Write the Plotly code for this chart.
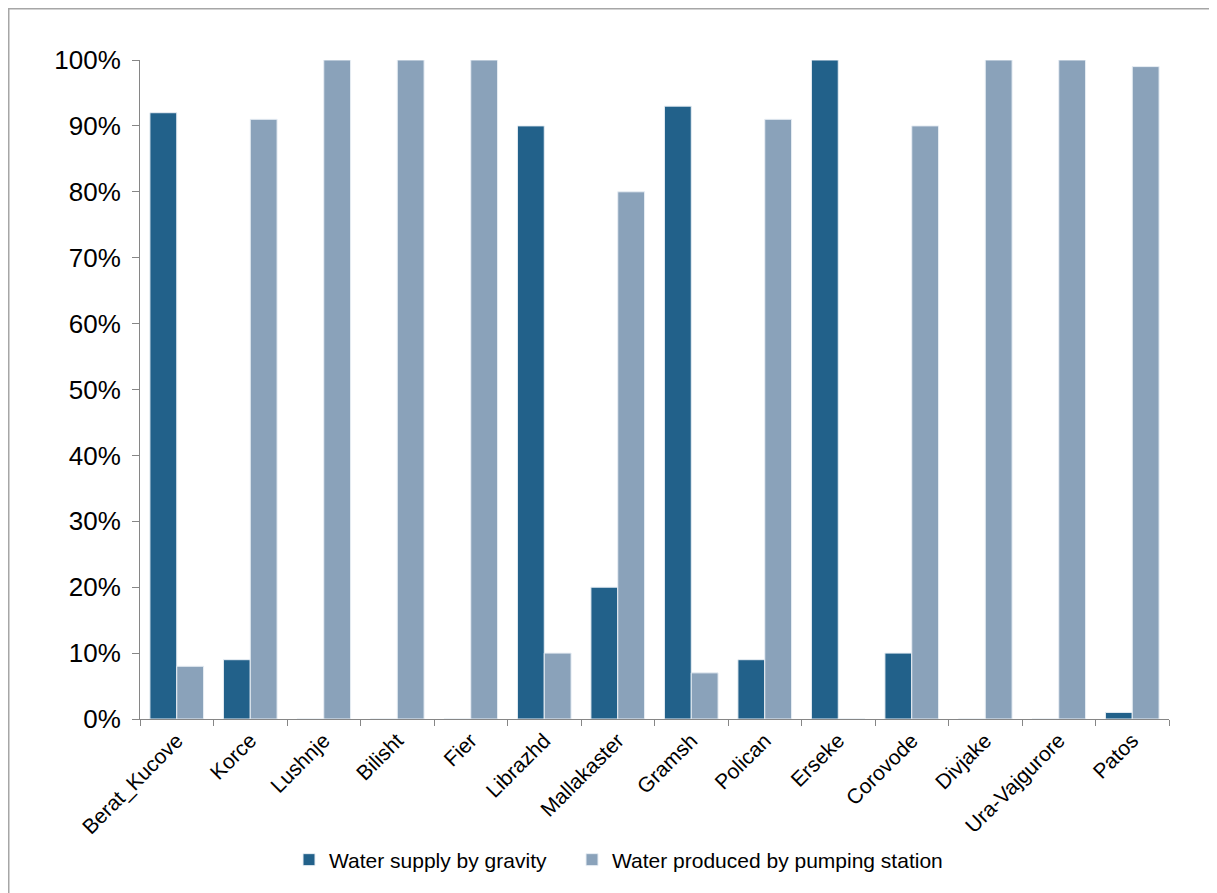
import plotly.graph_objects as go

categories = ["Berat_Kucove", "Korce", "Lushnje", "Bilisht", "Fier", "Librazhd",
              "Mallakaster", "Gramsh", "Polican", "Erseke", "Corovode", "Divjake",
              "Ura-Vajgurore", "Patos"]
gravity = [92, 9, 0, 0, 0, 90, 20, 93, 9, 100, 10, 0, 0, 1]
pumping = [8, 91, 100, 100, 100, 10, 80, 7, 91, 0, 90, 100, 100, 99]
tick_vals = [0, 10, 20, 30, 40, 50, 60, 70, 80, 90, 100]
tick_text = [f"{v}%" for v in tick_vals]

# the page body adds an 8px offset
W, H = 1209, 885
ML, MR, MT, MB = 132, 48, 52, 174
pw = W - ML - MR
ph = H - MT - MB

fig = go.Figure()
fig.add_trace(go.Bar(x=categories, y=gravity, name="Water supply by gravity",
                     legend="legend",
                     marker=dict(color="#22618A", line=dict(color="#E8EEF4", width=1))))
fig.add_trace(go.Bar(x=categories, y=pumping, name="Water produced by pumping station",
                     legend="legend2",
                     marker=dict(color="#8AA2BA", line=dict(color="#E8EEF4", width=1))))

leg_y = -(852 - (MT + ph)) / ph
fig.update_layout(
    width=W, height=H,
    margin=dict(l=ML, r=MR, t=MT, b=MB),
    paper_bgcolor="white", plot_bgcolor="white",
    barmode="group", bargap=0.27, bargroupgap=0,
    font=dict(family="Liberation Sans, Arial, sans-serif", color="#000000"),
    legend=dict(orientation="h", x=(281 - ML) / pw, xanchor="left",
                y=leg_y, yanchor="middle", font=dict(size=21)),
    legend2=dict(orientation="h", x=(564 - ML) / pw, xanchor="left",
                 y=leg_y, yanchor="middle", font=dict(size=21)),
    showlegend=True,
)
fig.update_yaxes(range=[0, 100], tickvals=tick_vals, ticktext=tick_text,
                 tickfont=dict(size=26), showgrid=False, showline=True,
                 linecolor="#868686", linewidth=1, ticks="outside", ticklen=7,
                 tickcolor="#868686", zeroline=False, ticklabelstandoff=6)
fig.update_xaxes(tickangle=-45, tickfont=dict(size=21), showline=True,
                 linecolor="#868686", linewidth=1, ticks="outside", ticklen=6,
                 tickcolor="#868686", tickson="boundaries", showgrid=False)

# frame lines (left and top) of the chart area
x_left = (0 - ML) / pw
y_top = 1 + MT / ph
y_bot = -(MB) / ph
fig.add_shape(type="line", xref="paper", yref="paper", x0=x_left, x1=x_left,
              y0=y_bot, y1=y_top, line=dict(color="#A6A6A6", width=3))
fig.add_shape(type="line", xref="paper", yref="paper", x0=x_left, x1=(W - ML) / pw,
              y0=y_top, y1=y_top, line=dict(color="#A6A6A6", width=3))

fig.write_html("out.html")
